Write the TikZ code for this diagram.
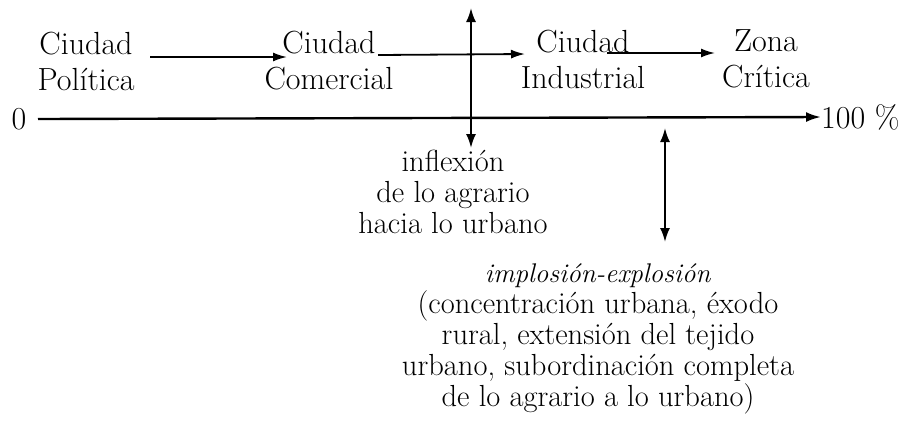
\documentclass[tikz,border=0pt]{standalone}
\usetikzlibrary{arrows.meta}
\begin{document}
\begin{tikzpicture}[x=1pt,y=-1pt,
  lbl/.style={inner sep=0pt, align=center, font=\fontsize{32}{36}\selectfont},
  txt/.style={inner sep=0pt, align=center, font=\fontsize{30.5}{31}\selectfont},
  arr/.style={line width=1.8pt, -{Latex[length=14pt,width=9pt]}},
  darr/.style={line width=2pt, {Latex[length=14pt,width=10pt]}-{Latex[length=14pt,width=10pt]}},
  axis/.style={line width=2.4pt, -{Latex[length=15pt,width=10pt]}}]
\useasboundingbox (0,0) rectangle (912,424);
% labels
\node[lbl] (pol) at (86,61) {Ciudad\\Política};
\node[lbl] (com) at (329,61) {Ciudad\\Comercial};
\node[lbl] (ind) at (583,59) {Ciudad\\Industrial};
\node[lbl] (zon) at (766,59) {Zona\\Crítica};
\node[lbl, anchor=center] (zero) at (19,119) {0};
\node[lbl, anchor=west] (cien) at (821,117) {100~\%};
% connectors
\coordinate (a1s) at (150,57); \coordinate (a1e) at (287,57);
\coordinate (a2s) at (378,55); \coordinate (a2e) at (525,54);
\coordinate (a3s) at (607,53); \coordinate (a3e) at (715,53);
\draw[arr] (a1s) -- (a1e);
\draw[arr] (a2s) -- (a2e);
\draw[arr] (a3s) -- (a3e);
\coordinate (ax0) at (38,119);
\draw[axis] (ax0) -- (cien.west);
% vertical arrows
\coordinate (v1t) at (471,8); \coordinate (v1b) at (471,148);
\draw[darr] (v1t) -- (v1b);
\coordinate (v2t) at (665,128); \coordinate (v2b) at (665,242);
\draw[darr] (v2t) -- (v2b);
% texts
\node[txt] (infl) at (453,192) {inflexión\\de lo agrario\\hacia lo urbano};
\node[txt] (impl) at (598,339) {{\fontsize{27}{31}\selectfont\textit{implosión-explosión}}\\(concentración urbana, éxodo\\rural, extensión del tejido\\urbano, subordinación completa\\de lo agrario a lo urbano)};
\end{tikzpicture}
\end{document}
